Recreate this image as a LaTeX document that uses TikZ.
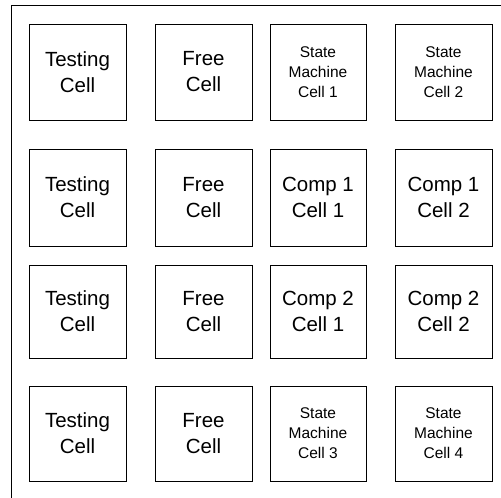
\documentclass[tikz,border=0pt]{standalone}
\usepackage{fontspec}
\setmainfont{Liberation Sans}
\begin{document}
\begin{tikzpicture}[x=1pt,y=-1pt,
  cellbox/.style={draw, line width=0.9pt, minimum width=97pt, minimum height=96pt, inner sep=0pt, align=center, font=\fontsize{20.5}{26}\selectfont},
  smallcell/.style={cellbox, font=\fontsize{15.5}{20}\selectfont}]
\useasboundingbox (0,0) rectangle (501,498);
\draw[line width=0.9pt] (11,498) -- (11,5) -- (501,5);
% row 1
\node[cellbox] (t1) at (77.5,72) {Testing\\Cell};
\node[cellbox] (f1) at (203.5,72) {Free\\Cell};
\node[smallcell, minimum width=96pt] (s1) at (318,72) {State\\Machine\\Cell 1};
\node[smallcell] (s2) at (443.5,72) {State\\Machine\\Cell 2};
% row 2
\node[cellbox, minimum height=97pt] (t2) at (77.5,197.5) {Testing\\Cell};
\node[cellbox, minimum height=97pt] (f2) at (203.5,197.5) {Free\\Cell};
\node[cellbox, minimum height=97pt, minimum width=96pt] (c11) at (318,197.5) {Comp 1\\Cell 1};
\node[cellbox, minimum height=97pt] (c12) at (443.5,197.5) {Comp 1\\Cell 2};
% row 3
\node[cellbox, minimum height=93pt] (t3) at (77.5,311.5) {Testing\\Cell};
\node[cellbox, minimum height=93pt] (f3) at (203.5,311.5) {Free\\Cell};
\node[cellbox, minimum height=93pt, minimum width=96pt] (c21) at (318,311.5) {Comp 2\\Cell 1};
\node[cellbox, minimum height=93pt] (c22) at (443.5,311.5) {Comp 2\\Cell 2};
% row 4
\node[cellbox, minimum height=95pt] (t4) at (77.5,433.5) {Testing\\Cell};
\node[cellbox, minimum height=95pt] (f4) at (203.5,433.5) {Free\\Cell};
\node[smallcell, minimum height=95pt, minimum width=96pt] (s3) at (318,433.5) {State\\Machine\\Cell 3};
\node[smallcell, minimum height=95pt] (s4) at (443.5,433.5) {State\\Machine\\Cell 4};
\end{tikzpicture}
\end{document}
